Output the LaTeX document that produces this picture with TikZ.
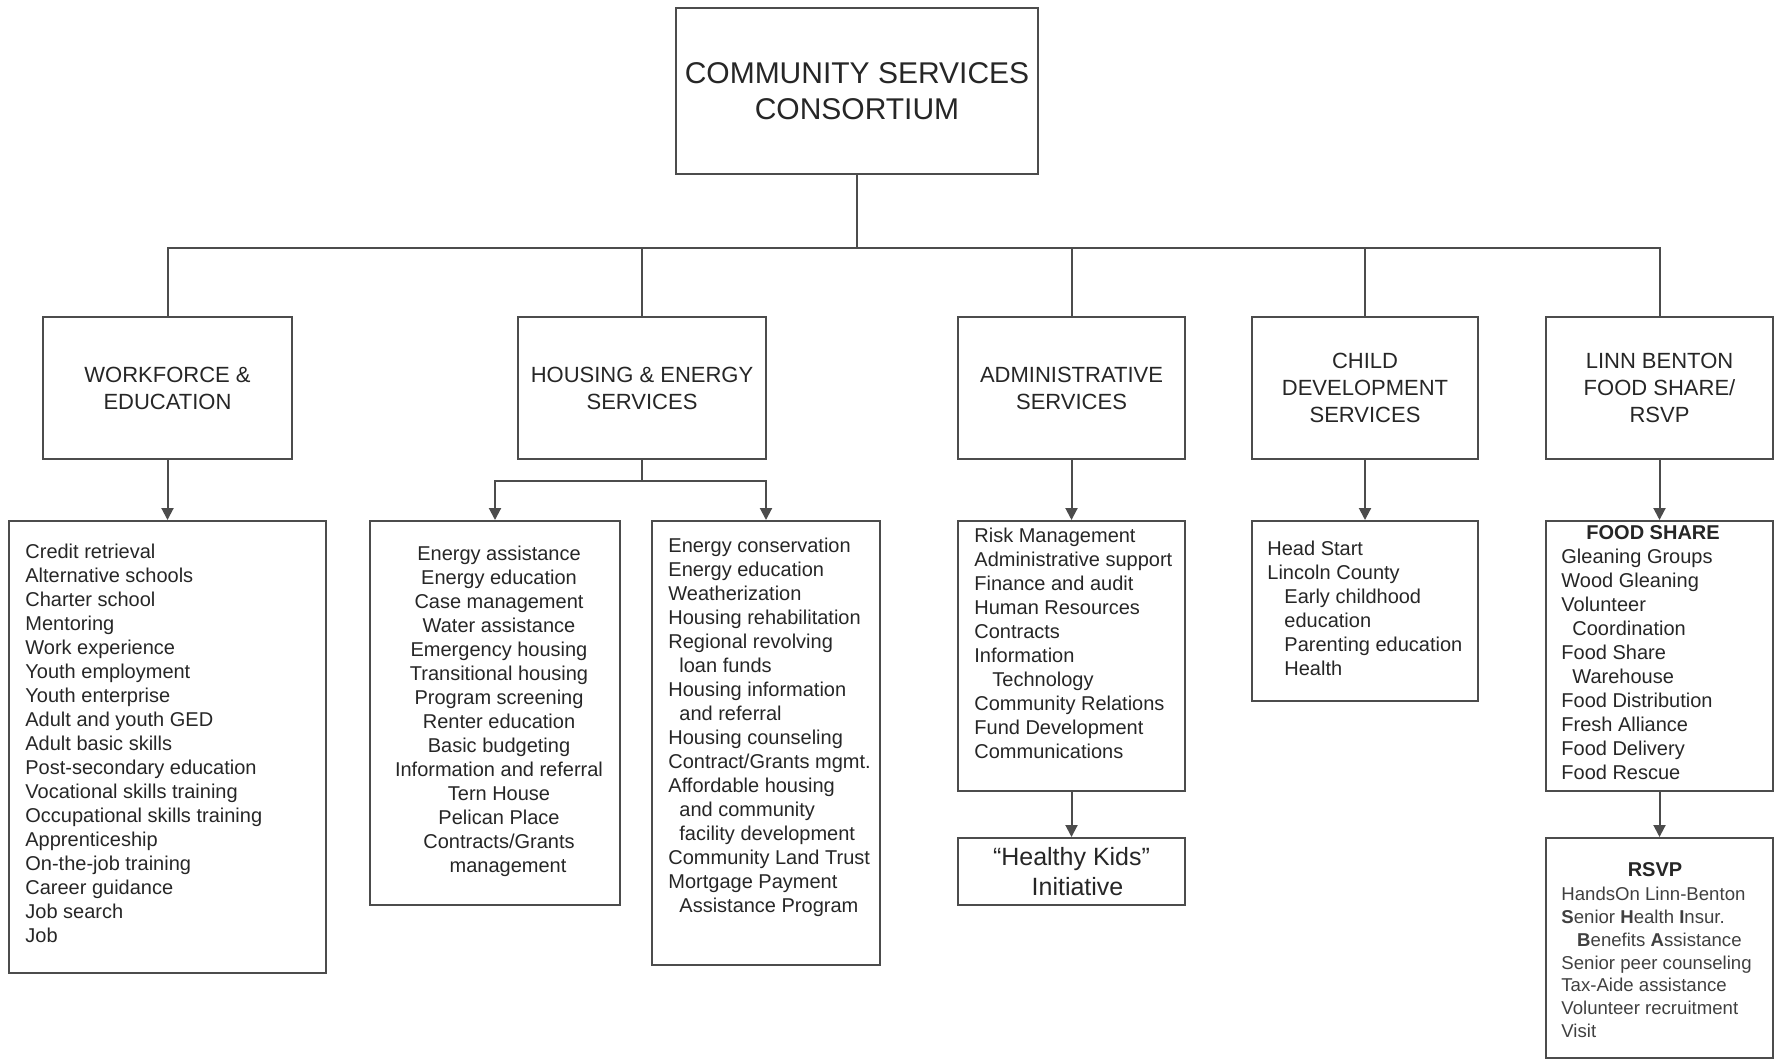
\documentclass[tikz,border=0pt]{standalone}
\usepackage{fontspec}
\setmainfont{Liberation Sans}
\usetikzlibrary{arrows.meta}
\tikzset{
  box/.style={draw=black!70, line width=1pt, inner sep=0pt, text=black!85},
  head/.style={box, font=\fontsize{11}{13.5}\selectfont, align=center, minimum height=71pt},
  items/.style={inner sep=0pt, anchor=north west, align=left, text=black!85, font=\fontsize{10}{12}\selectfont},
  link/.style={draw=black!70, line width=1pt},
  arr/.style={link, -{Triangle[length=6pt,width=6pt]}}
}

\begin{document}
\begin{tikzpicture}[x=0.5pt,y=-0.5pt]
\useasboundingbox (0,0) rectangle (1776,1062);

\node[box, minimum width=181pt, minimum height=83pt, align=center, font=\fontsize{15}{18}\selectfont] (top) at (857,91) {COMMUNITY SERVICES\\CONSORTIUM};
\coordinate (bar) at (857,248);

\node[head, minimum width=124.5pt] (work) at (167.5,388) {WORKFORCE \&\\EDUCATION};
\node[head, minimum width=124pt] (house) at (642,388) {HOUSING \& ENERGY\\SERVICES};
\node[head, minimum width=113.5pt] (admin) at (1071.5,388) {ADMINISTRATIVE\\SERVICES};
\node[head, minimum width=113pt] (child) at (1365,388) {CHILD\\DEVELOPMENT\\SERVICES};
\node[head, minimum width=113.5pt] (food) at (1659.5,388) {LINN BENTON\\FOOD SHARE/\\RSVP};

\draw[link] (top.south) -- (bar);
\draw[link] (work.north) -- (work.north |- bar) -- (food.north |- bar) -- (food.north);
\draw[link] (house.north) -- (house.north |- bar);
\draw[link] (admin.north) -- (admin.north |- bar);
\draw[link] (child.north) -- (child.north |- bar);

\node[box, minimum width=158.5pt, minimum height=226pt] (wbox) at (167.5,747) {};
\node[box, minimum width=125pt, minimum height=192pt] (hleft) at (495,713) {};
\node[box, minimum width=114pt, minimum height=222pt] (hright) at (766,743) {};
\node[box, minimum width=113.5pt, minimum height=135pt] (abox) at (1071.5,656) {};
\node[box, minimum width=113.5pt, minimum height=33.5pt, align=center, font=\fontsize{12.5}{14.7}\selectfont] (kids) at (1071.5,871.5) {“Healthy Kids”\\\hspace*{6pt}Initiative};
\node[box, minimum width=113pt, minimum height=90pt] (cbox) at (1365,611) {};
\node[box, minimum width=113.5pt, minimum height=135pt] (fbox) at (1659.5,656) {};
\node[box, minimum width=113.5pt, minimum height=110pt] (rbox) at (1659.5,948) {};

\coordinate (hsplit) at (642,481);
\draw[arr] (work.south) -- (wbox.north);
\draw[link] (house.south) -- (hsplit);
\draw[arr] (hsplit) -| (hleft.north);
\draw[arr] (hsplit) -| (hright.north);
\draw[arr] (admin.south) -- (abox.north);
\draw[arr] (abox.south) -- (kids.north);
\draw[arr] (child.south) -- (cbox.north);
\draw[arr] (food.south) -- (fbox.north);
\draw[arr] (fbox.south) -- (rbox.north);

\node[items] (wtxt) at (25,544) {Credit retrieval\\Alternative schools\\Charter school\\Mentoring\\Work experience\\Youth employment\\Youth enterprise\\Adult and youth GED\\Adult basic skills\\Post-secondary education\\Vocational skills training\\Occupational skills training\\Apprenticeship\\On-the-job training\\Career guidance\\Job search\\Job};

\node[items, anchor=north, align=center] (hltxt) at (499,546) {Energy assistance\\Energy education\\Case management\\Water assistance\\Emergency housing\\Transitional housing\\Program screening\\Renter education\\Basic budgeting\\Information and referral\\Tern House\\Pelican Place\\Contracts/Grants\\\hspace*{0.9em}management};

\node[items] (hrtxt) at (668,538) {Energy conservation\\Energy education\\Weatherization\\Housing rehabilitation\\Regional revolving\\\hspace*{0.55em}loan funds\\Housing information\\\hspace*{0.55em}and referral\\Housing counseling\\Contract/Grants mgmt.\\Affordable housing\\\hspace*{0.55em}and community\\\hspace*{0.55em}facility development\\Community Land Trust\\Mortgage Payment\\\hspace*{0.55em}Assistance Program};

\node[items] (atxt) at (974,528) {Risk Management\\Administrative support\\Finance and audit\\Human Resources\\Contracts\\Information\\\hspace*{0.9em}Technology\\Community Relations\\Fund Development\\Communications};

\node[items] (ctxt) at (1267,541) {Head Start\\Lincoln County\\\hspace*{0.85em}Early childhood\\\hspace*{0.85em}education\\\hspace*{0.85em}Parenting education\\\hspace*{0.85em}Health};

\node[items] (ftxt) at (1561,525) {\hspace*{1.25em}\textbf{FOOD SHARE}\\Gleaning Groups\\Wood Gleaning\\Volunteer\\\hspace*{0.55em}Coordination\\Food Share\\\hspace*{0.55em}Warehouse\\Food Distribution\\Fresh Alliance\\Food Delivery\\Food Rescue};

\node[items, anchor=center] (rhead) at (1655,870) {\textbf{RSVP}};
\node[items, text=black!75, font=\fontsize{9.3}{11.35}\selectfont] (rtxt) at (1561,887) {HandsOn Linn-Benton\\\textbf{S}enior \textbf{H}ealth \textbf{I}nsur.\\\hspace*{0.85em}\textbf{B}enefits \textbf{A}ssistance\\Senior peer counseling\\Tax-Aide assistance\\Volunteer recruitment\\Visit};
\end{tikzpicture}
\end{document}
